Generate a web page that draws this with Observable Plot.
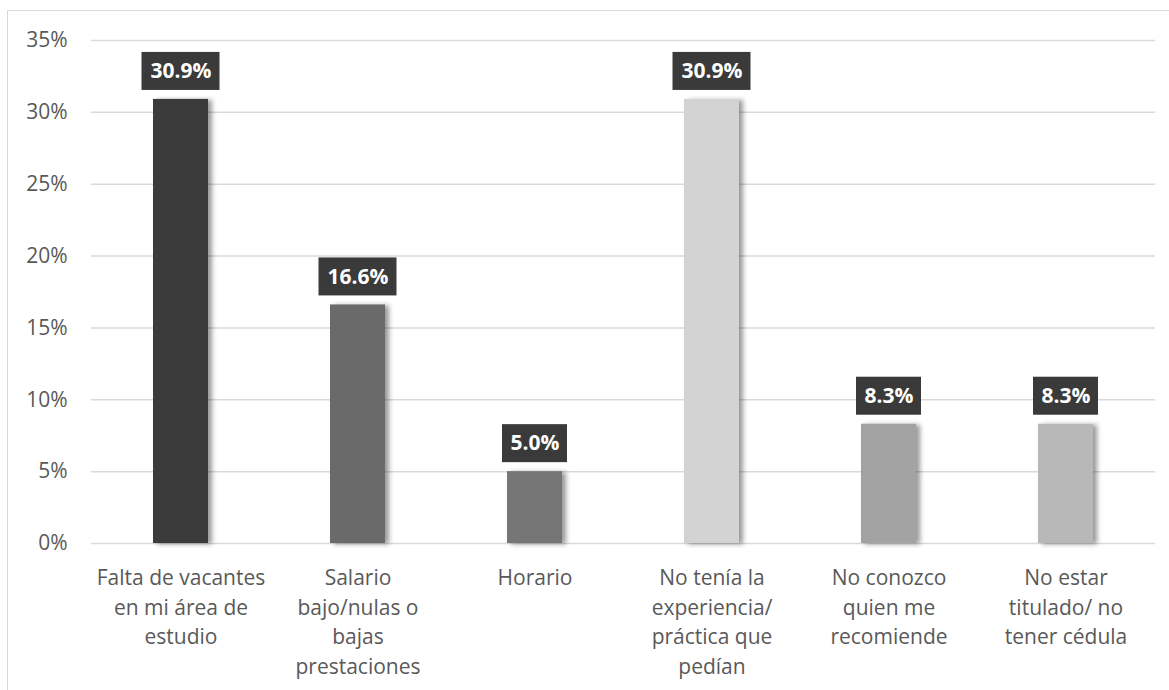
<!DOCTYPE html>
<html>
<head>
<meta charset="utf-8">
<script src="https://cdn.jsdelivr.net/npm/d3@7"></script>
<script src="https://cdn.jsdelivr.net/npm/@observablehq/plot@0.6"></script>
<style>
  html, body { margin: 0; padding: 0; background: #fff; }
  #wrap { position: relative; width: 1169px; height: 690px; overflow: hidden; }
  #border { position: absolute; left: 7px; top: 10px; width: 1200px; height: 720px; border: 1.5px solid #d9d9d9; box-sizing: border-box; }
  #chart { position: absolute; left: 0; top: 0; }
</style>
</head>
<body>
<div id="wrap"><div id="border"></div><div id="chart"></div></div>
<script>
const categories = [
  "Falta de vacantes\nen mi área de\nestudio",
  "Salario\nbajo/nulas o\nbajas\nprestaciones",
  "Horario",
  "No tenía la\nexperiencia/\npráctica que\npedían",
  "No conozco\nquien me\nrecomiende",
  "No estar\ntitulado/ no\ntener cédula"
];
const values = [30.9, 16.6, 5.0, 30.9, 8.3, 8.3];
const barColors = ["#3b3b3b", "#6a6a6a", "#767676", "#d3d3d3", "#a3a3a3", "#b8b8b8"];
const yTicks = [0, 5, 10, 15, 20, 25, 30, 35];

const data = categories.map((c, i) => ({cat: c, value: values[i], color: barColors[i], label: values[i].toFixed(1) + "%"}));

const font = "'Open Sans', sans-serif";

const plot = Plot.plot({
  width: 1169,
  height: 690,
  marginTop: 40,
  marginBottom: 147,
  marginLeft: 91,
  marginRight: 14,
  style: {fontFamily: font, background: "transparent", color: "#595959"},
  x: {domain: categories, paddingInner: 0.69, paddingOuter: 0.345, label: null},
  y: {domain: [0, 35], label: null},
  marks: [
    Plot.ruleY(yTicks, {stroke: "#d9d9d9", strokeWidth: 1.5}),
    Plot.axisY({ticks: yTicks, tickSize: 0, tickPadding: 24, tickFormat: d => d + "%", fontSize: 21, fill: "#595959", label: null}),
    Plot.axisX({tickSize: 0, tickPadding: 21, fontSize: 21, lineHeight: 1.4, fill: "#595959", label: null}),
    Plot.barY(data, {x: "cat", y: "value", fill: "color"}),
    Plot.barY(data.filter(d => d.label.length === 5), {x: "cat", y1: "value", y2: "value", fill: "#3a3a3a", insetTop: -47, insetBottom: 9, insetLeft: -11.5, insetRight: -11.5}),
    Plot.barY(data.filter(d => d.label.length === 4), {x: "cat", y1: "value", y2: "value", fill: "#3a3a3a", insetTop: -47, insetBottom: 9, insetLeft: -5, insetRight: -5}),
    Plot.text(data, {x: "cat", y: "value", text: "label", dy: -28, fill: "white", fontWeight: "bold", fontSize: 21, fontFamily: font})
  ]
});

// drop shadow for the bars (first bar mark group)
const svg = d3.select(plot);
const defs = svg.insert("defs", ":first-child");
const f = defs.append("filter").attr("id", "shadow").attr("x", "-20%").attr("y", "-5%").attr("width", "160%").attr("height", "110%");
f.append("feDropShadow").attr("dx", 4).attr("dy", 1).attr("stdDeviation", 2.5).attr("flood-color", "#000").attr("flood-opacity", 0.4);
svg.select("g[aria-label='bar']").attr("filter", "url(#shadow)");

document.getElementById("chart").appendChild(plot);
</script>
</body>
</html>
